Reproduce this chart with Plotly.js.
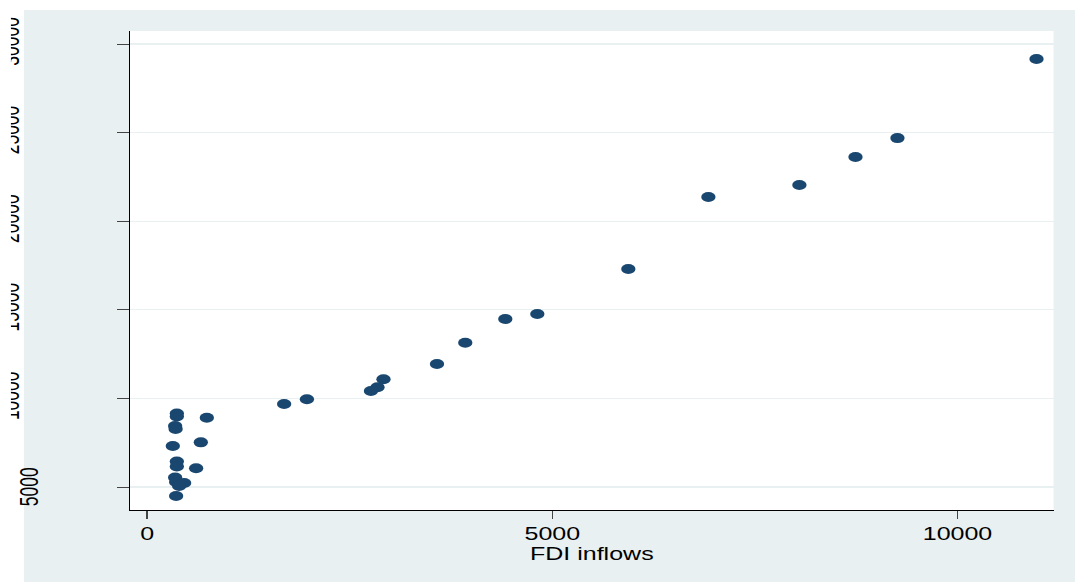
<!DOCTYPE html>
<html>
<head>
<meta charset="utf-8">
<script src="https://cdn.plot.ly/plotly-3.0.1.min.js"></script>
<style>
  html, body { margin: 0; padding: 0; background: #ffffff; overflow: hidden; }
  #chart { width: 752px; height: 582px; transform: scaleX(1.4295); transform-origin: 0 0; }
</style>
</head>
<body>
<div id="chart"></div>
<script>
// FDI inflows (x) vs. outcome (y)
const fdiInflows = [10975, 9259, 8741, 8049, 6926, 5938, 4815, 4420, 3926, 3577,
                    2917, 2843, 2762, 1972, 1691, 367, 367, 737, 346, 352,
                    317, 663, 367, 367, 605, 346, 358, 457, 395, 358];
const yValues    = [29150, 24690, 23620, 22040, 21365, 17300, 14760, 14480, 13140, 11940,
                    11080, 10630, 10420, 9950, 9680, 9150, 8980, 8910, 8440, 8270,
                    7310, 7520, 6440, 6160, 6055, 5540, 5280, 5230, 5060, 4490];
const xTickVals  = [0, 5000, 10000];
const xTickText  = ['0', '5000', '10000'];
const yTickVals  = [5000, 10000, 15000, 20000, 25000, 30000];
const yTickText  = ['', '10000', '15000', '20000', '25000', '30000'];
const xTitle     = 'FDI inflows';
const yFirstLabel = '5000';

const W = 752, H = 582;
const M = { l: 91, r: 15.4, t: 31, b: 72 };
const pw = W - M.l - M.r, ph = H - M.t - M.b;
const px2x = p => (p - M.l) / pw;
const py2y = p => (H - M.b - p) / ph;

const FONT = 'Liberation Sans, Arial, sans-serif';
const BG = '#e9f0f2';
const NAVY = '#1a476f';

const trace = {
  type: 'scatter', mode: 'markers',
  x: fdiInflows, y: yValues,
  marker: { color: NAVY, size: 10, line: { width: 0 } },
  hoverinfo: 'x+y'
};

const layout = {
  width: W, height: H,
  margin: M,
  paper_bgcolor: BG,
  plot_bgcolor: '#ffffff',
  showlegend: false,
  font: { family: FONT, size: 17.5, color: '#000000' },
  xaxis: {
    range: [-210, 11185],
    tickvals: xTickVals, ticktext: xTickText,
    ticks: 'outside', ticklen: 8, tickcolor: '#444', tickwidth: 1,
    showline: true, linecolor: '#000', linewidth: 1,
    showgrid: false, zeroline: false,
    tickfont: { family: FONT, size: 17.5, color: '#000' },
    title: { text: xTitle, font: { family: FONT, size: 17.5, color: '#000' }, standoff: 0 }
  },
  yaxis: {
    range: [3702, 30734],
    tickvals: yTickVals, ticktext: yTickText,
    tickangle: -90,
    ticks: 'outside', ticklen: 8, tickcolor: '#444', tickwidth: 1,
    ticklabelstandoff: 62,
    showline: true, linecolor: '#000', linewidth: 1,
    showgrid: true, gridcolor: BG, gridwidth: 1.2,
    zeroline: false,
    tickfont: { family: FONT, size: 17.5, color: '#000' }
  },
  shapes: [
    { type: 'rect', xref: 'paper', yref: 'paper', layer: 'below',
      x0: px2x(0), x1: px2x(W), y0: py2y(10), y1: py2y(0),
      fillcolor: '#ffffff', line: { width: 0 } },
    { type: 'rect', xref: 'paper', yref: 'paper', layer: 'below',
      x0: px2x(0), x1: px2x(24 / 1.4295), y0: py2y(H), y1: py2y(0),
      fillcolor: '#ffffff', line: { width: 0 } },
    { type: 'rect', xref: 'paper', yref: 'paper', layer: 'above',
      x0: px2x(-5), x1: px2x(11 / 1.4295), y0: py2y(H), y1: py2y(0),
      fillcolor: '#ffffff', line: { width: 0 } }
  ],
  annotations: [
    { text: yFirstLabel, xref: 'paper', yref: 'y', x: px2x(29 / 1.4295), y: 5000,
      textangle: -90, showarrow: false, xanchor: 'center', yanchor: 'middle',
      font: { family: FONT, size: 17.5, color: '#000' } }
  ]
};

Plotly.newPlot('chart', [trace], layout, { displayModeBar: false, staticPlot: true });
</script>
</body>
</html>
